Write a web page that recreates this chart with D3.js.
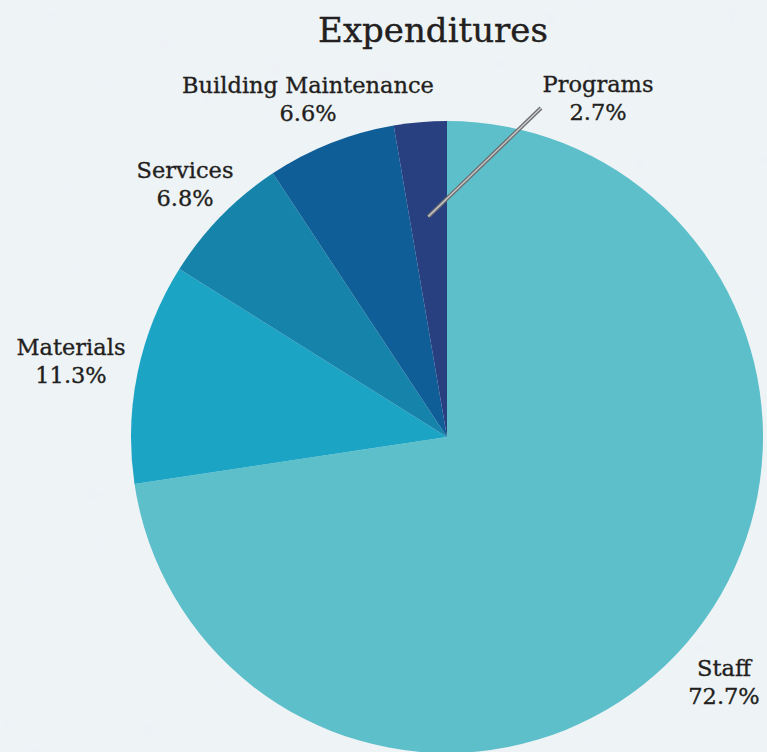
<!DOCTYPE html>
<html>
<head>
<meta charset="utf-8">
<script src="https://cdn.jsdelivr.net/npm/d3@7"></script>
<style>
  html, body { margin: 0; padding: 0; background: #edf2f5; }
  svg { display: block; }
  text { font-family: "DejaVu Serif", "Liberation Serif", serif; fill: #231f20; }
</style>
</head>
<body>
<svg id="chart" width="767" height="752"></svg>
<script>
// Expenditure categories and their shares (percent)
const categories = ["Staff", "Materials", "Services", "Building Maintenance", "Programs"];
const shares = [72.7, 11.3, 6.8, 6.6, 2.7];
const sliceColors = ["#5dbfca", "#1ba4c4", "#1684aa", "#0f5e98", "#283f80"];
const chartTitle = "Expenditures";

const W = 767, H = 752;
const cx = 447, cy = 437, radius = 316;

// Label anchor points (centre of the two-line label, first baseline)
const labelPos = {
  "Staff": [724, 676],
  "Materials": [71, 355],
  "Services": [185, 178],
  "Building Maintenance": [308, 93],
  "Programs": [598, 92]
};

const svg = d3.select("#chart");

// subtle paper grain
const defs = svg.append("defs");
const f = defs.append("filter").attr("id", "grain").attr("x", 0).attr("y", 0).attr("width", "100%").attr("height", "100%");
f.append("feTurbulence").attr("type", "fractalNoise").attr("baseFrequency", 0.035).attr("numOctaves", 3).attr("seed", 4).attr("result", "n");
f.append("feColorMatrix").attr("in", "n").attr("type", "matrix")
  .attr("values", "0 0 0 0 0.85  0 0 0 0 0.88  0 0 0 0 0.91  0 0 0 0.4 -0.05");
svg.append("rect").attr("width", W).attr("height", H).attr("fill", "#eef3f6");
svg.append("rect").attr("width", W).attr("height", H).attr("filter", "url(#grain)");

const data = categories.map((c, i) => ({ name: c, value: shares[i], color: sliceColors[i] }));

const pie = d3.pie().value(d => d.value).sort(null)
  .startAngle(0).endAngle(2 * Math.PI);
const arc = d3.arc().innerRadius(0).outerRadius(radius);

const g = svg.append("g").attr("transform", `translate(${cx},${cy})`);
const arcs = pie(data);
g.selectAll("path.slice").data(arcs).join("path")
  .attr("class", "slice")
  .attr("d", arc)
  .attr("fill", d => d.data.color);

// leader line for the small Programs slice
const prog = arcs.find(a => a.data.name === "Programs");
const inner = d3.arc().innerRadius(radius * 0.7).outerRadius(radius * 0.7).centroid(prog);
const p0 = [cx + inner[0], cy + inner[1]];
const p1 = [541, 108];
svg.append("line").attr("x1", p0[0]).attr("y1", p0[1]).attr("x2", p1[0]).attr("y2", p1[1])
  .attr("stroke", "#6d6e70").attr("stroke-width", 4);
svg.append("line").attr("x1", p0[0]).attr("y1", p0[1]).attr("x2", p1[0]).attr("y2", p1[1])
  .attr("stroke", "#c9cbcc").attr("stroke-width", 1.4);

// title
svg.append("text").attr("x", 433).attr("y", 42).attr("text-anchor", "middle")
  .attr("font-size", 34).attr("stroke", "#231f20").attr("stroke-width", 0.4)
  .text(chartTitle);

// slice labels
const fmt = d3.format(".1f");
const lab = svg.selectAll("g.lab").data(arcs).join("g").attr("class", "lab")
  .attr("transform", d => `translate(${labelPos[d.data.name][0]},${labelPos[d.data.name][1]})`);
lab.append("text").attr("text-anchor", "middle").attr("font-size", 22.5)
  .attr("stroke", "#231f20").attr("stroke-width", 0.35).text(d => d.data.name);
lab.append("text").attr("text-anchor", "middle").attr("font-size", 22.5).attr("y", 28)
  .attr("stroke", "#231f20").attr("stroke-width", 0.35)
  .text(d => fmt(d.data.value) + "%");
</script>
</body>
</html>
